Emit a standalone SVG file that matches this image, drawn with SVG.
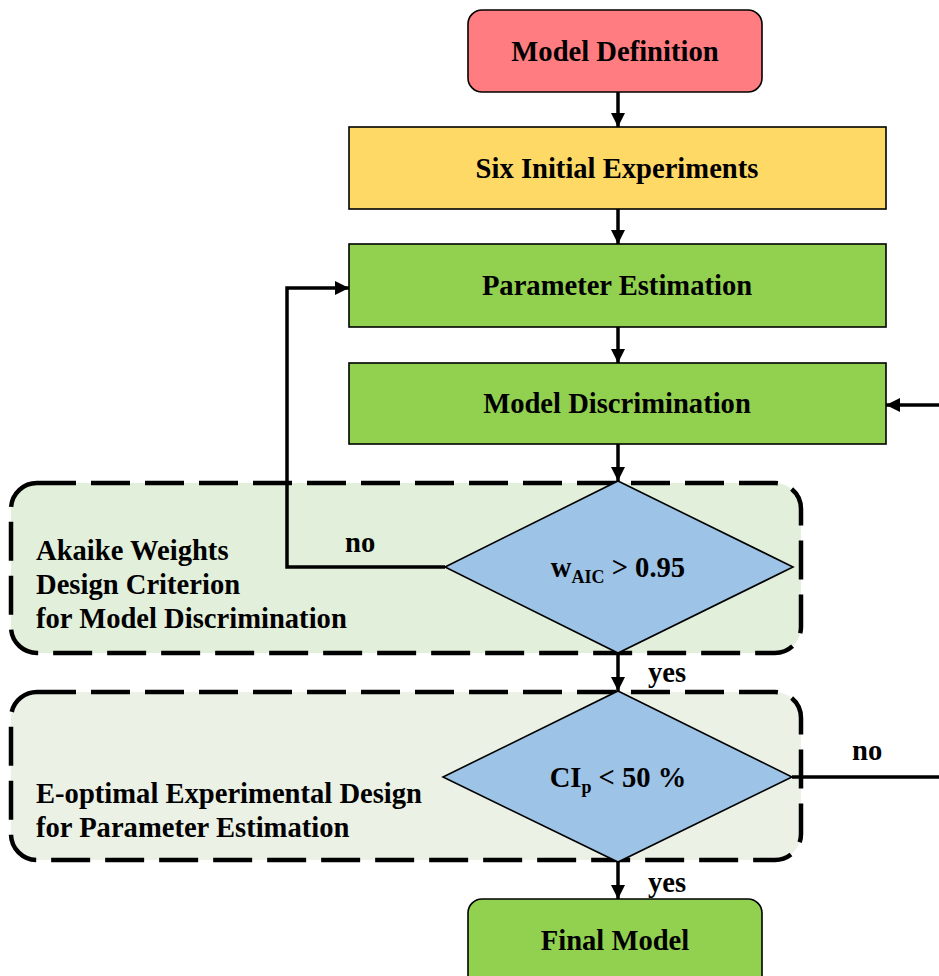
<svg xmlns="http://www.w3.org/2000/svg" width="939" height="976" viewBox="0 0 939 976">
<defs>
<marker id="ah" markerUnits="userSpaceOnUse" markerWidth="16" markerHeight="14" refX="14" refY="7" orient="auto">
<path d="M0,0 L14,7 L0,14 Z" fill="#000"/>
</marker>
<style>
.t{font-family:"Liberation Serif","Times New Roman",serif;font-weight:bold;font-size:28.6px;fill:#000}
.c{text-anchor:middle}
.box{stroke:#000;stroke-width:1.6}
.grp{stroke:#000;stroke-width:4.5;stroke-dasharray:39 15}
.ln{fill:none;stroke:#000;stroke-width:3.5}
.dm{fill:#9DC3E6;stroke:#000;stroke-width:1.6}
</style>
</defs>
<rect width="939" height="976" fill="#fff"/>
<g id="group-akaike">
<rect class="grp" x="11" y="483" width="790" height="170" rx="26" fill="#E2EFDA"/>
<text class="t" x="36" y="560">Akaike Weights</text>
<text class="t" x="36" y="594">Design Criterion</text>
<text class="t" x="36" y="628">for Model Discrimination</text>
</g>
<g id="group-eoptimal">
<rect class="grp" x="11" y="692" width="790" height="168" rx="26" fill="#EBF1E5"/>
<text class="t" x="36" y="803">E-optimal Experimental Design</text>
<text class="t" x="36" y="837">for Parameter Estimation</text>
</g>
<g id="connectors">
<line class="ln" x1="618" y1="92" x2="618" y2="127" marker-end="url(#ah)"/>
<line class="ln" x1="618" y1="209" x2="618" y2="244" marker-end="url(#ah)"/>
<line class="ln" x1="618" y1="327" x2="618" y2="363" marker-end="url(#ah)"/>
<line class="ln" x1="618" y1="444" x2="618" y2="481" marker-end="url(#ah)"/>
<polyline class="ln" points="445,567 287,567 287,288 349,288" marker-end="url(#ah)"/>
<line class="ln" x1="618" y1="653" x2="618" y2="691" marker-end="url(#ah)"/>
<line class="ln" x1="618" y1="862" x2="618" y2="899" marker-end="url(#ah)"/>
<line class="ln" x1="939" y1="405" x2="886" y2="405" marker-end="url(#ah)"/>
<line class="ln" x1="792" y1="777" x2="939" y2="777"/>
<text class="t" x="345" y="552">no</text>
<text class="t" x="852" y="760">no</text>
<text class="t" x="648" y="682">yes</text>
<text class="t" x="648" y="892">yes</text>
</g>
<g id="node-model-definition">
<rect class="box" x="468" y="10" width="294" height="82" rx="14" fill="#FF7C80"/>
<text class="t c" x="615" y="61">Model Definition</text>
</g>
<g id="node-six-initial">
<rect class="box" x="349" y="127" width="537" height="82" fill="#FFD966"/>
<text class="t c" x="617" y="178">Six Initial Experiments</text>
</g>
<g id="node-parameter-estimation">
<rect class="box" x="349" y="244" width="537" height="83" fill="#92D050"/>
<text class="t c" x="617" y="295">Parameter Estimation</text>
</g>
<g id="node-model-discrimination">
<rect class="box" x="349" y="363" width="537" height="81" fill="#92D050"/>
<text class="t c" x="617" y="413">Model Discrimination</text>
</g>
<g id="node-waic">
<polygon class="dm" points="618,481 793,567 618,653 445,567"/>
<text class="t c" x="618" y="577">w<tspan font-size="18" dy="6">AIC</tspan><tspan dy="-6"> &gt; 0.95</tspan></text>
</g>
<g id="node-cip">
<polygon class="dm" points="618,691 792,777 618,862 443,777"/>
<text class="t c" x="618" y="787">CI<tspan font-size="18" dy="6">p</tspan><tspan dy="-6"> &lt; 50 %</tspan></text>
</g>
<g id="node-final-model">
<rect class="box" x="468" y="899" width="294" height="95" rx="14" fill="#92D050"/>
<text class="t c" x="615" y="950">Final Model</text>
</g>
</svg>
